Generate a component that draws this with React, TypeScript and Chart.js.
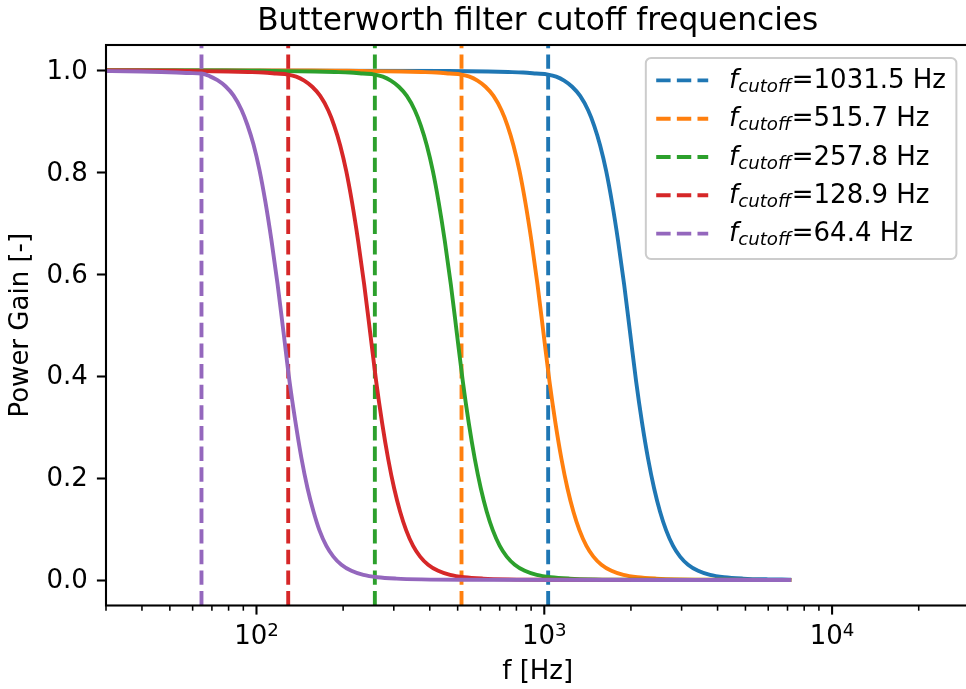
import React, { useEffect, useRef } from "react";
import { Chart, registerables } from "chart.js";

Chart.register(...registerables);

const TITLE = "Butterworth filter cutoff frequencies";
const X_LABEL = "f [Hz]";
const Y_LABEL = "Power Gain [-]";

const cutoffs = [1031.5, 515.7, 257.8, 128.9, 64.4];
const cutoffLabels = ["1031.5", "515.7", "257.8", "128.9", "64.4"];
const colors = ["#1f77b4", "#ff7f0e", "#2ca02c", "#d62728", "#9467bd"];

const freqBlue = [20, 463.8, 638.5, 749.2, 844.7, 937.1, 1031.5, 1099.7, 1172.3, 1249.7, 1332.2, 1420.2, 1490.1, 1563.5, 1640.4, 1720.6, 1805.6, 1894.4, 1987.4, 2084.6, 2187.2, 2294.3, 2407.1, 2525.3, 2649.6, 2801.9, 2963.3, 3159.5, 3423.0, 3766.7, 4212.6, 4903.1, 5988.7, 7100];
const gainBlue = [1.0, 0.999, 0.998, 0.997, 0.996, 0.994, 0.992, 0.988, 0.98, 0.968, 0.95, 0.922, 0.892, 0.853, 0.803, 0.74, 0.665, 0.58, 0.485, 0.39, 0.308, 0.238, 0.18, 0.134, 0.098, 0.067, 0.046, 0.03, 0.018, 0.01, 0.0055, 0.0028, 0.0013, 0.0008];

const freqOrange = [20, 155.4, 231.9, 319.2, 374.6, 422.3, 468.5, 515.7, 549.8, 586.1, 624.8, 666.0, 710.0, 745.0, 781.6, 820.1, 860.2, 902.7, 947.1, 993.6, 1042.2, 1093.5, 1147.0, 1203.4, 1262.5, 1324.7, 1400.8, 1481.5, 1579.6, 1711.3, 1883.2, 2106.1, 2451.3, 2994.1, 4122.8, 7100];
const gainOrange = [1.0, 1.0, 0.999, 0.998, 0.997, 0.996, 0.994, 0.992, 0.988, 0.98, 0.968, 0.95, 0.922, 0.892, 0.853, 0.803, 0.74, 0.665, 0.58, 0.485, 0.39, 0.308, 0.238, 0.18, 0.134, 0.098, 0.067, 0.046, 0.03, 0.018, 0.01, 0.0055, 0.0028, 0.0013, 0.0005, 0.0];

const freqGreen = [20, 77.7, 115.9, 159.6, 187.2, 211.1, 234.2, 257.8, 274.8, 293.0, 312.3, 332.9, 354.9, 372.4, 390.8, 410.0, 430.0, 451.3, 473.5, 496.7, 521.0, 546.6, 573.4, 601.6, 631.1, 662.2, 700.3, 740.6, 789.6, 855.5, 941.4, 1052.9, 1225.4, 1496.7, 2061.0, 7100];
const gainGreen = [1.0, 1.0, 0.999, 0.998, 0.997, 0.996, 0.994, 0.992, 0.988, 0.98, 0.968, 0.95, 0.922, 0.892, 0.853, 0.803, 0.74, 0.665, 0.58, 0.485, 0.39, 0.308, 0.238, 0.18, 0.134, 0.098, 0.067, 0.046, 0.03, 0.018, 0.01, 0.0055, 0.0028, 0.0013, 0.0005, 0.0];

const freqRed = [20, 38.84, 57.95, 79.79, 93.62, 105.6, 117.1, 128.9, 137.4, 146.5, 156.2, 166.5, 177.5, 186.2, 195.4, 205.0, 215.0, 225.6, 236.7, 248.4, 260.5, 273.3, 286.7, 300.8, 315.6, 331.1, 350.1, 370.3, 394.8, 427.8, 470.7, 526.4, 612.7, 748.4, 1030.5, 7100];
const gainRed = [1.0, 1.0, 0.999, 0.998, 0.997, 0.996, 0.994, 0.992, 0.988, 0.98, 0.968, 0.95, 0.922, 0.892, 0.853, 0.803, 0.74, 0.665, 0.58, 0.485, 0.39, 0.308, 0.238, 0.18, 0.134, 0.098, 0.067, 0.046, 0.03, 0.018, 0.01, 0.0055, 0.0028, 0.0013, 0.0005, 0.0];

const freqPurple = [19.4, 28.95, 39.86, 46.77, 52.74, 58.51, 64.4, 68.66, 73.19, 78.02, 83.17, 88.67, 93.03, 97.61, 102.4, 107.4, 112.7, 118.3, 124.1, 130.1, 136.6, 143.2, 150.3, 157.7, 165.4, 174.9, 185.0, 197.3, 213.7, 235.2, 263.0, 306.1, 373.9, 514.9, 7100];
const gainPurple = [1.0, 0.999, 0.998, 0.997, 0.996, 0.995, 0.994, 0.989, 0.981, 0.969, 0.951, 0.923, 0.893, 0.855, 0.805, 0.742, 0.667, 0.582, 0.487, 0.392, 0.31, 0.24, 0.181, 0.135, 0.098, 0.067, 0.046, 0.03, 0.018, 0.01, 0.0055, 0.0028, 0.0013, 0.0005, 0.0];

const yTicks = [0.0, 0.2, 0.4, 0.6, 0.8, 1.0];
const xMajorExponents = [2, 3, 4];
const xMinorMultipliers = [2, 3, 4, 5, 6, 7, 8, 9];
const xDecades = [1, 2, 3, 4];

const X_MIN = 30;
const X_MAX = 30000;
const Y_MIN = -0.05;
const Y_MAX = 1.05;

// styles (matplotlib-like, 2.6 px per pt)
const FONT = '"DejaVu Sans"';
const FS = 26;
const TITLE_FS = 31.2;
const LW = 3.9;
const DASH = [14.4, 6.24];
const SPINE_W = 2.08;
const MAJOR_LEN = 9.1;
const MINOR_LEN = 5.2;
const MAJOR_W = 2.08;
const MINOR_W = 1.56;
const TICK_PAD = 9.1;

const CANVAS_W = 975;
const CANVAS_H = 689;

const mplPlugin = {
  id: "mplDecor",
  afterDatasetsDraw(chart: any) {
    const ctx: CanvasRenderingContext2D = chart.ctx;
    const a = chart.chartArea;
    const xs = chart.scales.x;
    ctx.save();
    // spines
    ctx.strokeStyle = "#000";
    ctx.lineWidth = SPINE_W;
    ctx.lineJoin = "miter";
    ctx.strokeRect(a.left, a.top, a.right - a.left, a.bottom - a.top);
    // x ticks (major + minor)
    ctx.lineCap = "butt";
    xDecades.forEach((e) => {
      [1, ...xMinorMultipliers].forEach((m) => {
        const v = m * Math.pow(10, e);
        if (v < X_MIN || v > X_MAX) return;
        const px = xs.getPixelForValue(v);
        const major = m === 1;
        ctx.lineWidth = major ? MAJOR_W : MINOR_W;
        ctx.beginPath();
        ctx.moveTo(px, a.bottom);
        ctx.lineTo(px, a.bottom + (major ? MAJOR_LEN : MINOR_LEN));
        ctx.stroke();
      });
    });
    // x tick labels 10^n
    ctx.fillStyle = "#000";
    ctx.textBaseline = "alphabetic";
    ctx.textAlign = "left";
    const mainBase = a.bottom + MAJOR_LEN + TICK_PAD + 20.6;
    const supBase = mainBase - 8.5;
    xMajorExponents.forEach((e) => {
      const px = xs.getPixelForValue(Math.pow(10, e));
      ctx.font = `${FS}px ${FONT}`;
      const w1 = ctx.measureText("10").width;
      ctx.font = `${FS * 0.7}px ${FONT}`;
      const sup = String(e);
      const w2 = ctx.measureText(sup).width;
      const start = px - (w1 + w2) / 2;
      ctx.font = `${FS}px ${FONT}`;
      ctx.fillText("10", start, mainBase);
      ctx.font = `${FS * 0.7}px ${FONT}`;
      ctx.fillText(sup, start + w1, supBase);
    });
    ctx.restore();
  },
  afterDraw(chart: any) {
    const ctx: CanvasRenderingContext2D = chart.ctx;
    const a = chart.chartArea;
    ctx.save();
    // title
    ctx.fillStyle = "#000";
    ctx.font = `${TITLE_FS}px ${FONT}`;
    ctx.textAlign = "center";
    ctx.textBaseline = "alphabetic";
    ctx.fillText(TITLE, (a.left + a.right) / 2, a.top - 14.6);

    // legend
    const pad = 0.4 * FS;
    const handleLen = 2.0 * FS;
    const handleTextPad = 0.8 * FS;
    const subFS = FS * 0.7;
    const subShift = 4;
    ctx.textAlign = "left";
    const measureLabel = (lab: string) => {
      ctx.font = `italic ${FS}px ${FONT}`;
      let w = ctx.measureText("f").width;
      ctx.font = `italic ${subFS}px ${FONT}`;
      w += ctx.measureText("cutoff").width + 0.7;
      ctx.font = `${FS}px ${FONT}`;
      w += ctx.measureText(`=${lab} Hz`).width;
      return w;
    };
    const textW = Math.max(...cutoffLabels.map(measureLabel));
    const boxW = pad * 2 + handleLen + handleTextPad + textW;
    const right = a.right - 0.5 * FS;
    const top = a.top + 0.5 * FS;
    const left = right - boxW;
    const rowPitch = 38.3;
    const boxH = 201;
    ctx.beginPath();
    ctx.roundRect(left, top, boxW, boxH, 0.2 * FS);
    ctx.fillStyle = "rgba(255,255,255,0.8)";
    ctx.fill();
    ctx.strokeStyle = "#cccccc";
    ctx.lineWidth = 2;
    ctx.stroke();

    cutoffLabels.forEach((lab, i) => {
      const cy = top + 22.4 + rowPitch * i;
      // handle
      ctx.save();
      ctx.strokeStyle = colors[i];
      ctx.lineWidth = LW;
      ctx.lineCap = "butt";
      ctx.setLineDash(DASH);
      ctx.beginPath();
      ctx.moveTo(left + pad, cy);
      ctx.lineTo(left + pad + handleLen, cy);
      ctx.stroke();
      ctx.restore();
      // text
      const base = cy + 7.6;
      let x = left + pad + handleLen + handleTextPad;
      ctx.fillStyle = "#000";
      ctx.font = `italic ${FS}px ${FONT}`;
      ctx.fillText("f", x, base);
      x += ctx.measureText("f").width;
      ctx.font = `italic ${subFS}px ${FONT}`;
      ctx.fillText("cutoff", x, base + subShift);
      x += ctx.measureText("cutoff").width + 0.7;
      ctx.font = `${FS}px ${FONT}`;
      ctx.fillText(`=${lab} Hz`, x, base);
    });
    ctx.restore();
  },
};

export default function App() {
  const ref = useRef<HTMLCanvasElement>(null);
  useEffect(() => {
    const canvas = ref.current;
    if (!canvas) return;
    Chart.defaults.font.family = "DejaVu Sans";
    const series = [
      { f: freqBlue, g: gainBlue },
      { f: freqOrange, g: gainOrange },
      { f: freqGreen, g: gainGreen },
      { f: freqRed, g: gainRed },
      { f: freqPurple, g: gainPurple },
    ];
    const datasets: any[] = [];
    let k = 0;
    series.forEach((s, i) => {
      datasets.push({
        data: s.f.map((x, j) => ({ x, y: s.g[j] })),
        borderColor: colors[i],
        backgroundColor: colors[i],
        borderWidth: LW,
        pointRadius: 0,
        pointHoverRadius: 0,
        fill: false,
        cubicInterpolationMode: "monotone",
        borderJoinStyle: "round",
        borderCapStyle: "square",
        clip: 0,
        order: 100 - k++,
      });
      datasets.push({
        data: [
          { x: cutoffs[i], y: Y_MIN },
          { x: cutoffs[i], y: Y_MAX },
        ],
        borderColor: colors[i],
        backgroundColor: colors[i],
        borderWidth: LW,
        borderDash: DASH,
        borderCapStyle: "butt",
        pointRadius: 0,
        pointHoverRadius: 0,
        fill: false,
        tension: 0,
        clip: 0,
        order: 100 - k++,
      });
    });

    const chart = new Chart(canvas, {
      type: "line",
      data: { datasets },
      options: {
        responsive: false,
        animation: false,
        devicePixelRatio: 1,
        events: [],
        layout: { padding: { top: 45, right: 5.6, bottom: 0, left: 0 } },
        plugins: {
          legend: { display: false },
          tooltip: { enabled: false },
          title: { display: false },
        },
        scales: {
          x: {
            type: "logarithmic",
            min: X_MIN,
            max: X_MAX,
            afterFit: (s: any) => {
              s.height = 83.5;
            },
            ticks: { display: false },
            grid: { display: false },
            border: { display: false },
            title: {
              display: true,
              text: X_LABEL,
              color: "#000",
              font: { family: "DejaVu Sans", size: FS },
              padding: { top: 0, bottom: 0.9 },
            },
          },
          y: {
            type: "linear",
            min: Y_MIN,
            max: Y_MAX,
            afterBuildTicks: (s: any) => {
              s.ticks = yTicks.map((v) => ({ value: v }));
            },
            afterFit: (s: any) => {
              s.width = 106;
            },
            ticks: {
              color: "#000",
              font: { family: "DejaVu Sans", size: FS },
              padding: TICK_PAD,
              labelOffset: 1.5,
              callback: (v: any) => Number(v).toFixed(1),
            },
            grid: {
              display: true,
              drawOnChartArea: false,
              drawTicks: true,
              tickLength: MAJOR_LEN,
              tickWidth: MAJOR_W,
              tickColor: "#000",
            },
            border: { display: false },
            title: {
              display: true,
              text: Y_LABEL,
              color: "#000",
              font: { family: "DejaVu Sans", size: FS },
              padding: { top: 5.4, bottom: 0 },
            },
          },
        },
      } as any,
      plugins: [mplPlugin],
    });
    return () => chart.destroy();
  }, []);

  return (
    <div
      style={{
        position: "absolute",
        left: 0,
        top: 0,
        width: 966,
        height: 689,
        overflow: "hidden",
        background: "#fff",
      }}
    >
      <canvas
        ref={ref}
        width={CANVAS_W}
        height={CANVAS_H}
        style={{ display: "block", width: CANVAS_W, height: CANVAS_H }}
      />
    </div>
  );
}
